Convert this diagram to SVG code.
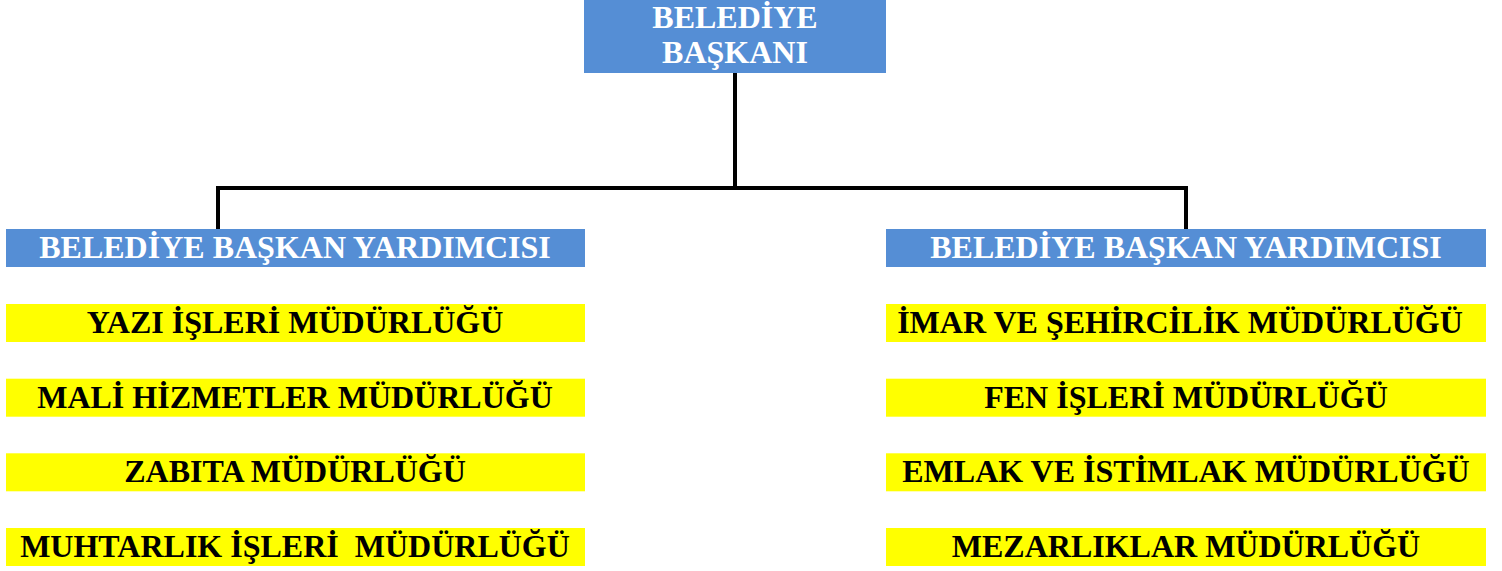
<svg xmlns="http://www.w3.org/2000/svg" width="1502" height="571" viewBox="0 0 1502 571">
<style>
.blue{fill:#558ED5}
.yel{fill:#FFFF00}
.t{font-family:"Liberation Serif","Times New Roman",serif;font-weight:bold;font-size:32px;text-anchor:middle;white-space:pre}
.tw{fill:#FFFFFF}
.tb{fill:#000000}
.conn{fill:none;stroke:#000000;stroke-width:4}
</style>
<rect width="1502" height="571" fill="#FFFFFF"/>
<g id="connectors">
<path class="conn" d="M735 73 V188"/>
<path class="conn" d="M218 229 V188 H1186 V229"/>
</g>
<g id="baskan">
<rect class="blue" x="584" y="0" width="302" height="73"/>
<text class="t tw" x="735" y="28">BELEDİYE</text>
<text class="t tw" x="735" y="63">BAŞKANI</text>
</g>
<g id="yardimci-left">
<rect class="blue" x="6" y="229" width="579" height="38"/>
<text class="t tw" x="295" y="258">BELEDİYE BAŞKAN YARDIMCISI</text>
</g>
<g id="yardimci-right">
<rect class="blue" x="886" y="229" width="600" height="38"/>
<text class="t tw" x="1186" y="258">BELEDİYE BAŞKAN YARDIMCISI</text>
</g>
<g id="yazi">
<rect class="yel" x="6" y="304" width="579" height="38"/>
<text class="t tb" x="295" y="333">YAZI İŞLERİ MÜDÜRLÜĞÜ</text>
</g>
<g id="mali">
<rect class="yel" x="6" y="378.7" width="579" height="38"/>
<text class="t tb" x="295" y="407.7">MALİ HİZMETLER MÜDÜRLÜĞÜ</text>
</g>
<g id="zabita">
<rect class="yel" x="6" y="453.3" width="579" height="38"/>
<text class="t tb" x="295" y="482.3">ZABITA MÜDÜRLÜĞÜ</text>
</g>
<g id="muhtarlik">
<rect class="yel" x="6" y="528" width="579" height="38"/>
<text class="t tb" x="295" y="557">MUHTARLIK İŞLERİ  MÜDÜRLÜĞÜ</text>
</g>
<g id="imar">
<rect class="yel" x="886" y="304" width="600" height="38"/>
<text class="t tb" x="1180" y="333">İMAR VE ŞEHİRCİLİK MÜDÜRLÜĞÜ</text>
</g>
<g id="fen">
<rect class="yel" x="886" y="378.7" width="600" height="38"/>
<text class="t tb" x="1186" y="407.7">FEN İŞLERİ MÜDÜRLÜĞÜ</text>
</g>
<g id="emlak">
<rect class="yel" x="886" y="453.3" width="600" height="38"/>
<text class="t tb" x="1186" y="482.3">EMLAK VE İSTİMLAK MÜDÜRLÜĞÜ</text>
</g>
<g id="mezarlik">
<rect class="yel" x="886" y="528" width="600" height="38"/>
<text class="t tb" x="1186" y="557">MEZARLIKLAR MÜDÜRLÜĞÜ</text>
</g>
</svg>
